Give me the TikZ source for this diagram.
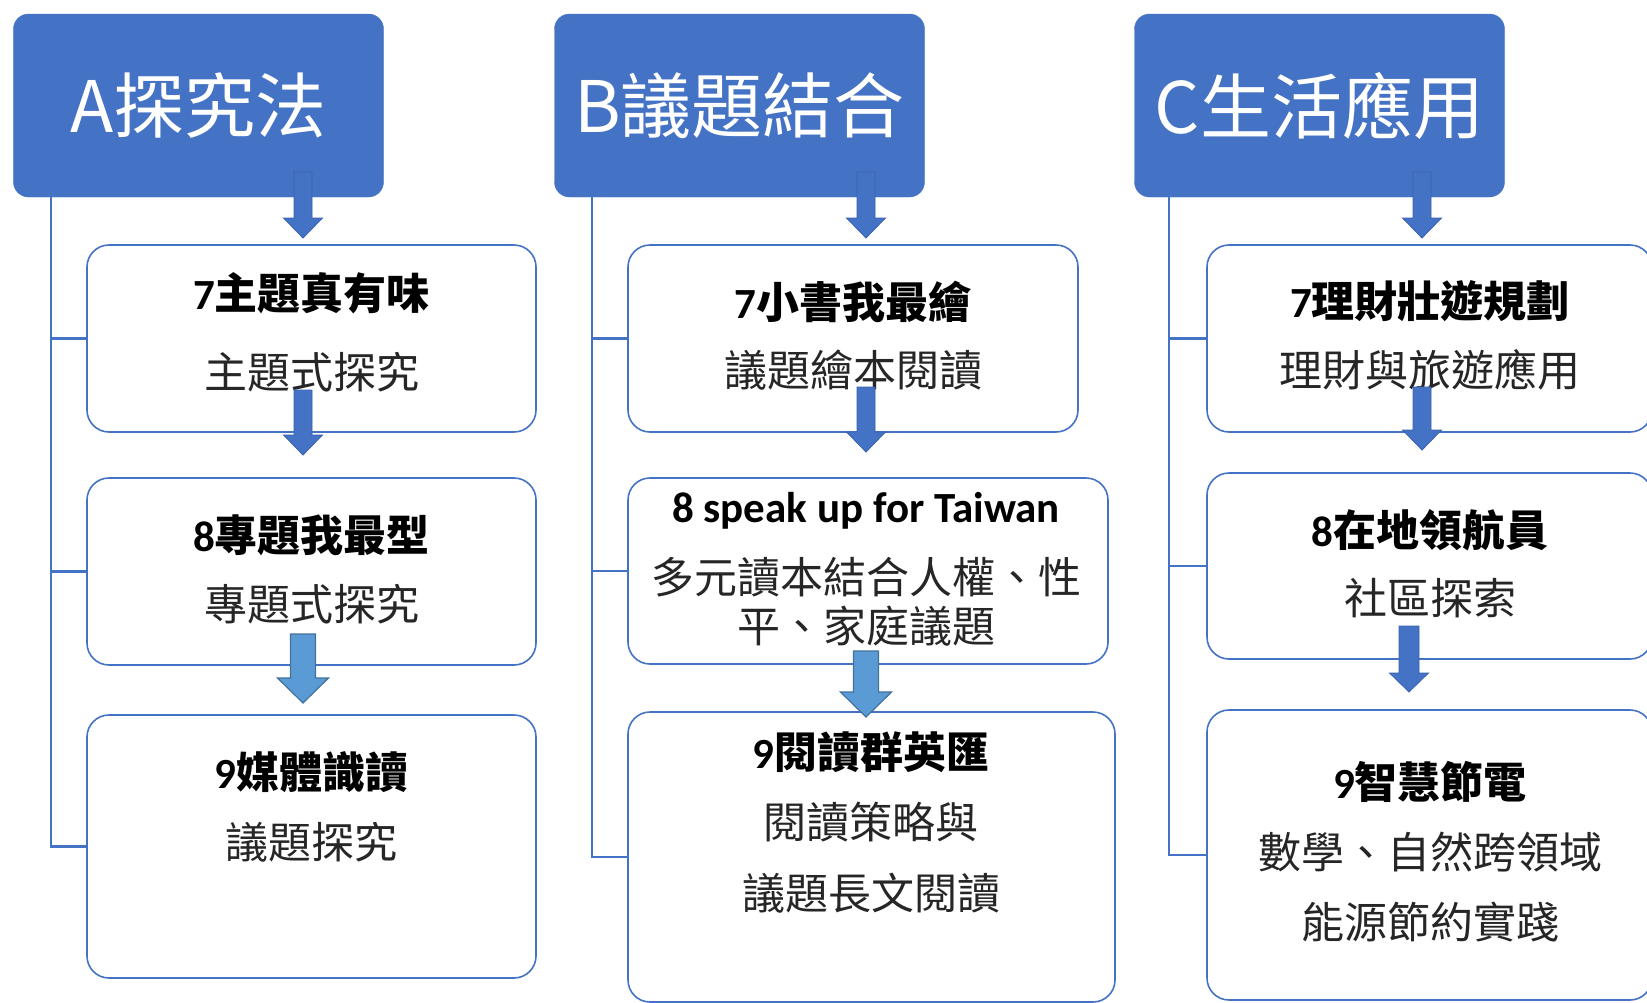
\documentclass[tikz,border=0pt]{standalone}
\usepackage{fontspec}
\setmainfont{Noto Sans CJK TC}
\newfontfamily\lat{Carlito}
\definecolor{hdblue}{HTML}{4472C4}
\definecolor{arrdark}{HTML}{3A62AE}
\definecolor{arrlight}{HTML}{5B9BD5}
\definecolor{arrrim}{HTML}{41719C}
\definecolor{subgray}{HTML}{262626}
% block arrow: x, top, tip, shaft half, head half, head length, style
\newcommand{\blockarr}[7]{%
  \draw[#7] (#1-#4,-#2) -- (#1+#4,-#2) -- (#1+#4,-#3+#6) -- (#1+#5,-#3+#6)
    -- (#1,-#3) -- (#1-#5,-#3+#6) -- (#1-#4,-#3+#6) -- cycle;}

\begin{document}
\begin{tikzpicture}[x=1bp,y=1bp,
  head/.style={fill=hdblue, draw=hdblue, rounded corners=15bp, minimum width=370bp,
    minimum height=183bp, text=white, font=\fontsize{71bp}{80bp}\selectfont},
  item/.style={draw=hdblue, line width=1.6bp, fill=white, rounded corners=22bp},
  ttl/.style={font=\fontsize{43bp}{50bp}\selectfont\bfseries},
  sub/.style={text=subgray, font=\fontsize{43bp}{49bp}\selectfont, align=center},
  tree/.style={draw=hdblue, line width=2.2bp},
  darr/.style={fill=hdblue, draw=arrdark, line width=0.8bp},
  larr/.style={fill=arrlight, draw=arrrim, line width=1.2bp}]
	\tikzstyle{every node}+=[inner sep=0pt]
	\useasboundingbox[fill=white] (0,0) rectangle (1647,-1002);
	% headers
	\node[head] (hA) at (198.5,-105.5) {A探究法};
	\node[head] (hB) at (739.5,-105.5) {B議題結合};
	\node[head] (hC) at (1319.5,-105.5) {C生活應用};
	\coordinate (tA) at (51,-197);
	\coordinate (tB) at (592,-197);
	\coordinate (tC) at (1169,-197);
	% boxes
	\node[item, minimum width=449bp, minimum height=187bp] (a7) at (311.5,-338.5) {};
	\node[item, minimum width=449bp, minimum height=187bp] (a8) at (311.5,-571.5) {};
	\node[item, minimum width=449bp, minimum height=263bp] (a9) at (311.5,-846.5) {};
	\node[item, minimum width=450bp, minimum height=187bp] (b7) at (853,-338.5) {};
	\node[item, minimum width=480bp, minimum height=186bp] (b8) at (868,-571) {};
	\node[item, minimum width=487bp, minimum height=290bp] (b9) at (871.5,-857) {};
	\node[item, minimum width=445bp, minimum height=187bp] (c7) at (1429.5,-338.5) {};
	\node[item, minimum width=445bp, minimum height=186bp] (c8) at (1429.5,-566) {};
	\node[item, minimum width=445bp, minimum height=290bp] (c9) at (1429.5,-855) {};
	% tree lines
	\draw[tree] (tA) |- (a7.west);
	\draw[tree] (tA) |- (a8.west);
	\draw[tree] (tA) |- (a9.west);
	\draw[tree] (tB) |- (b7.west);
	\draw[tree] (tB) |- (b8.west);
	\draw[tree] (tB) |- (b9.west);
	\draw[tree] (tC) |- (c7.west);
	\draw[tree] (tC) |- (c8.west);
	\draw[tree] (tC) |- (c9.west);
	% texts
	\node[ttl] (a7t) at (311.5,-293) {{\lat 7}主題真有味};
	\node[sub] (a7s) at (311.5,-372) {主題式探究};
	\node[ttl] (a8t) at (311.5,-535) {{\lat 8}專題我最型};
	\node[sub] (a8s) at (311.5,-604) {專題式探究};
	\node[ttl] (a9t) at (311.5,-772) {{\lat 9}媒體識讀};
	\node[sub] (a9s) at (311.5,-842) {議題探究};
	\node[ttl] (b7t) at (853,-302) {{\lat 7}小書我最繪};
	\node[sub] (b7s) at (853,-370) {議題繪本閱讀};
	\node[ttl] (b8t) at (866,-511) {\lat 8 speak up for Taiwan};
	\node[sub] (b8s) at (866,-602) {多元讀本結合人權、性\\平、家庭議題};
	\node[ttl] (b9t) at (871,-752) {{\lat 9}閱讀群英匯};
	\node[sub] (b9s) at (871,-822) {閱讀策略與};
	\node[sub] (b9u) at (871,-893) {議題長文閱讀};
	\node[ttl] (c7t) at (1430,-301) {{\lat 7}理財壯遊規劃};
	\node[sub] (c7s) at (1430,-370) {理財與旅遊應用};
	\node[ttl] (c8t) at (1430,-530) {{\lat 8}在地領航員};
	\node[sub] (c8s) at (1430,-598) {社區探索};
	\node[ttl] (c9t) at (1430,-782) {{\lat 9}智慧節電};
	\node[sub] (c9s) at (1430,-852) {數學、自然跨領域};
	\node[sub] (c9u) at (1430,-922) {能源節約實踐};
	% block arrows
	\blockarr{303}{172}{238}{9}{19.5}{20}{darr}
	\blockarr{303}{390}{455}{9}{19.5}{20}{darr}
	\blockarr{303}{634}{703}{12.5}{25.5}{25}{larr}
	\blockarr{866}{172}{238}{9}{19.5}{20}{darr}
	\blockarr{866}{387}{452}{9}{19.5}{20}{darr}
	\blockarr{866}{651}{717}{12.5}{25.5}{25}{larr}
	\blockarr{1422}{172}{238}{9}{19.5}{20}{darr}
	\blockarr{1422}{387}{450}{9}{19.5}{20}{darr}
	\blockarr{1409}{626}{692}{10}{19.5}{19}{darr}
\end{tikzpicture}
\end{document}
